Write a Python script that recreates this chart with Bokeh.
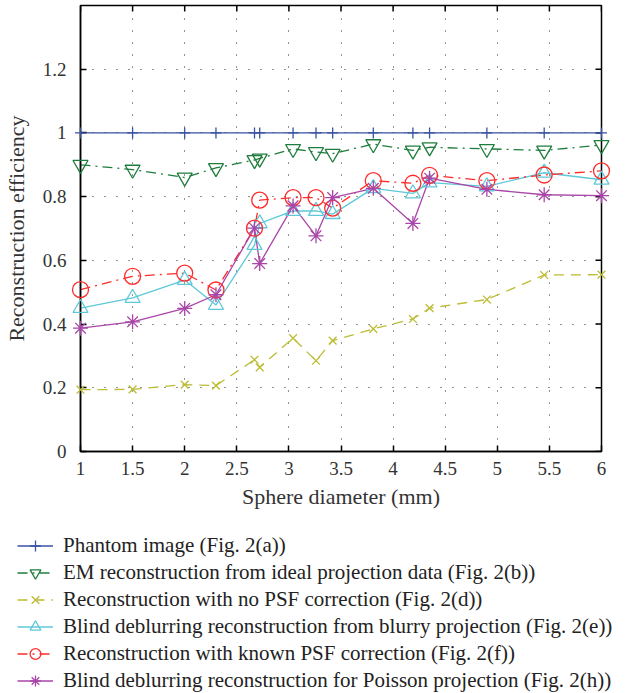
from math import pi
from bokeh.plotting import figure
from bokeh.layouts import column
from bokeh.models import Range1d, FixedTicker, Legend, LegendItem
from bokeh.embed import file_html
from bokeh.resources import INLINE

# ---- data ----
diameters = [1.0, 1.5, 2.0, 2.3, 2.67, 2.72, 3.04, 3.26, 3.42, 3.81, 4.19, 4.35, 4.9, 5.45, 6.0]
phantom = [1.0, 1.0, 1.0, 1.0, 1.0, 1.0, 1.0, 1.0, 1.0, 1.0, 1.0, 1.0, 1.0, 1.0, 1.0]
em_ideal = [0.900, 0.885, 0.860, 0.890, 0.915, 0.920, 0.950, 0.940, 0.935, 0.965, 0.945, 0.955, 0.950, 0.945, 0.962]
no_psf = [0.194, 0.195, 0.210, 0.207, 0.288, 0.264, 0.356, 0.285, 0.348, 0.385, 0.416, 0.450, 0.477, 0.554, 0.555]
blind_blurry = [0.450, 0.482, 0.538, 0.460, 0.648, 0.716, 0.755, 0.755, 0.745, 0.826, 0.810, 0.844, 0.832, 0.875, 0.853]
known_psf = [0.508, 0.550, 0.560, 0.507, 0.701, 0.789, 0.797, 0.797, 0.764, 0.850, 0.842, 0.867, 0.850, 0.868, 0.881]
poisson = [0.387, 0.407, 0.449, 0.492, 0.701, 0.590, 0.771, 0.677, 0.797, 0.826, 0.716, 0.858, 0.823, 0.806, 0.803]

x_min, x_max = 1, 6
y_min, y_max = 0, 1.4
x_ticks = [1, 1.5, 2, 2.5, 3, 3.5, 4, 4.5, 5, 5.5, 6]
x_tick_labels = ["1", "1.5", "2", "2.5", "3", "3.5", "4", "4.5", "5", "5.5", "6"]
y_ticks = [0, 0.2, 0.4, 0.6, 0.8, 1.0, 1.2]
y_tick_labels = ["0", "0.2", "0.4", "0.6", "0.8", "1", "1.2"]

series_names = [
    "Phantom image (Fig. 2(a))",
    "EM reconstruction from ideal projection data (Fig. 2(b))",
    "Reconstruction with no PSF correction (Fig. 2(d))",
    "Blind deblurring reconstruction from blurry projection (Fig. 2(e))",
    "Reconstruction with known PSF correction (Fig. 2(f))",
    "Blind deblurring reconstruction for Poisson projection (Fig. 2(h))",
]
series_values = [phantom, em_ideal, no_psf, blind_blurry, known_psf, poisson]

styles = [
    ("#3853a4", "solid", "cross", 11),
    ("#1e7d3c", "10 5 2 5", "inverted_triangle", 15),
    ("#bcbc35", "10 7", "x", 11),
    ("#5fc8d8", "solid", "triangle", 15),
    ("#ff2b2b", "10 5 2 5", "circle", 16),
    ("#a945a8", "solid", "asterisk", 15),
]

FONT = "Liberation Serif"

# ---------------- main chart ----------------
p = figure(width=626, height=520, output_backend="svg", toolbar_location=None,
           x_range=Range1d(x_min, x_max), y_range=Range1d(y_min, y_max),
           min_border_left=80, min_border_right=25, min_border_top=5, min_border_bottom=69)
p.frame_align = False
p.background_fill_color = "white"
p.border_fill_color = "white"
p.outline_line_color = "black"
p.outline_line_width = 1.5

xt = FixedTicker(ticks=x_ticks, minor_ticks=[])
yt = FixedTicker(ticks=y_ticks, minor_ticks=[])

for ax in [p.xaxis[0], p.yaxis[0]]:
    ax.axis_line_color = "black"
    ax.axis_line_width = 1.5
    ax.major_tick_in = 6
    ax.major_tick_out = 0
    ax.major_tick_line_width = 1.5
    ax.minor_tick_line_color = None
    ax.major_label_text_font = FONT
    ax.major_label_text_font_size = "19px"
    ax.major_label_text_color = "#333333"
    ax.axis_label_text_font = FONT
    ax.axis_label_text_font_size = "22px"
    ax.axis_label_text_font_style = "normal"
    ax.axis_label_text_color = "#333333"

p.xaxis[0].ticker = xt
p.yaxis[0].ticker = yt
p.xaxis[0].major_label_overrides = dict(zip(x_ticks, x_tick_labels))
p.yaxis[0].major_label_overrides = dict(zip(y_ticks, y_tick_labels))
p.xaxis[0].axis_label = "Sphere diameter (mm)"
p.yaxis[0].axis_label = "Reconstruction efficiency"
p.xaxis[0].major_label_standoff = 10
p.xaxis[0].axis_label_standoff = 6
p.yaxis[0].major_label_standoff = 14
p.yaxis[0].axis_label_standoff = 11

p.xgrid.ticker = xt
p.ygrid.ticker = yt
for g in [p.xgrid[0], p.ygrid[0]]:
    g.grid_line_color = "black"
    g.grid_line_alpha = 0.85
    g.grid_line_dash = "1 11"
    g.grid_line_width = 1

# inward ticks on the top and right edges (outer half clipped by the frame)
p.scatter(x_ticks, [y_max] * len(x_ticks), marker="dash", angle=pi / 2, size=12,
          line_color="black", line_width=1.5)
p.scatter([x_max] * len(y_ticks), y_ticks, marker="dash", size=12,
          line_color="black", line_width=1.5)

for vals, (color, dash, marker, size) in zip(series_values, styles):
    p.line(diameters, vals, line_color=color, line_width=1.3, line_dash=dash)
    p.scatter(diameters, vals, marker=marker, size=size, line_color=color,
              fill_color=None, line_width=1.3, level="overlay")

# ---------------- legend panel ----------------
lf = figure(width=626, height=173, output_backend="svg", toolbar_location=None,
            x_range=Range1d(-20, -19), y_range=Range1d(-20, -19),
            x_axis_type=None, y_axis_type=None,
            min_border_left=0, min_border_right=0, min_border_top=0, min_border_bottom=0)
lf.frame_align = False
lf.outline_line_color = None
lf.background_fill_color = "white"
lf.border_fill_color = "white"
lf.xgrid.visible = False
lf.ygrid.visible = False

items = []
for name, vals, (color, dash, marker, size) in zip(series_names, series_values, styles):
    l = lf.line(diameters, vals, line_color=color, line_width=1.3, line_dash=dash)
    s = lf.scatter(diameters, vals, marker=marker, size=size, line_color=color,
                   fill_color=None, line_width=1.3)
    items.append(LegendItem(label=name, renderers=[l, s]))

legend = Legend(items=items, location=(17, -1), orientation="vertical",
                label_text_font=FONT, label_text_font_size="21px", label_text_color="#222222",
                glyph_width=36, glyph_height=27, label_height=27, label_standoff=10,
                spacing=0, padding=0, margin=0, border_line_color=None,
                background_fill_color=None)
lf.add_layout(legend, "center")

layout = column(p, lf, spacing=0)
open("out.html", "w").write(file_html(layout, INLINE))
